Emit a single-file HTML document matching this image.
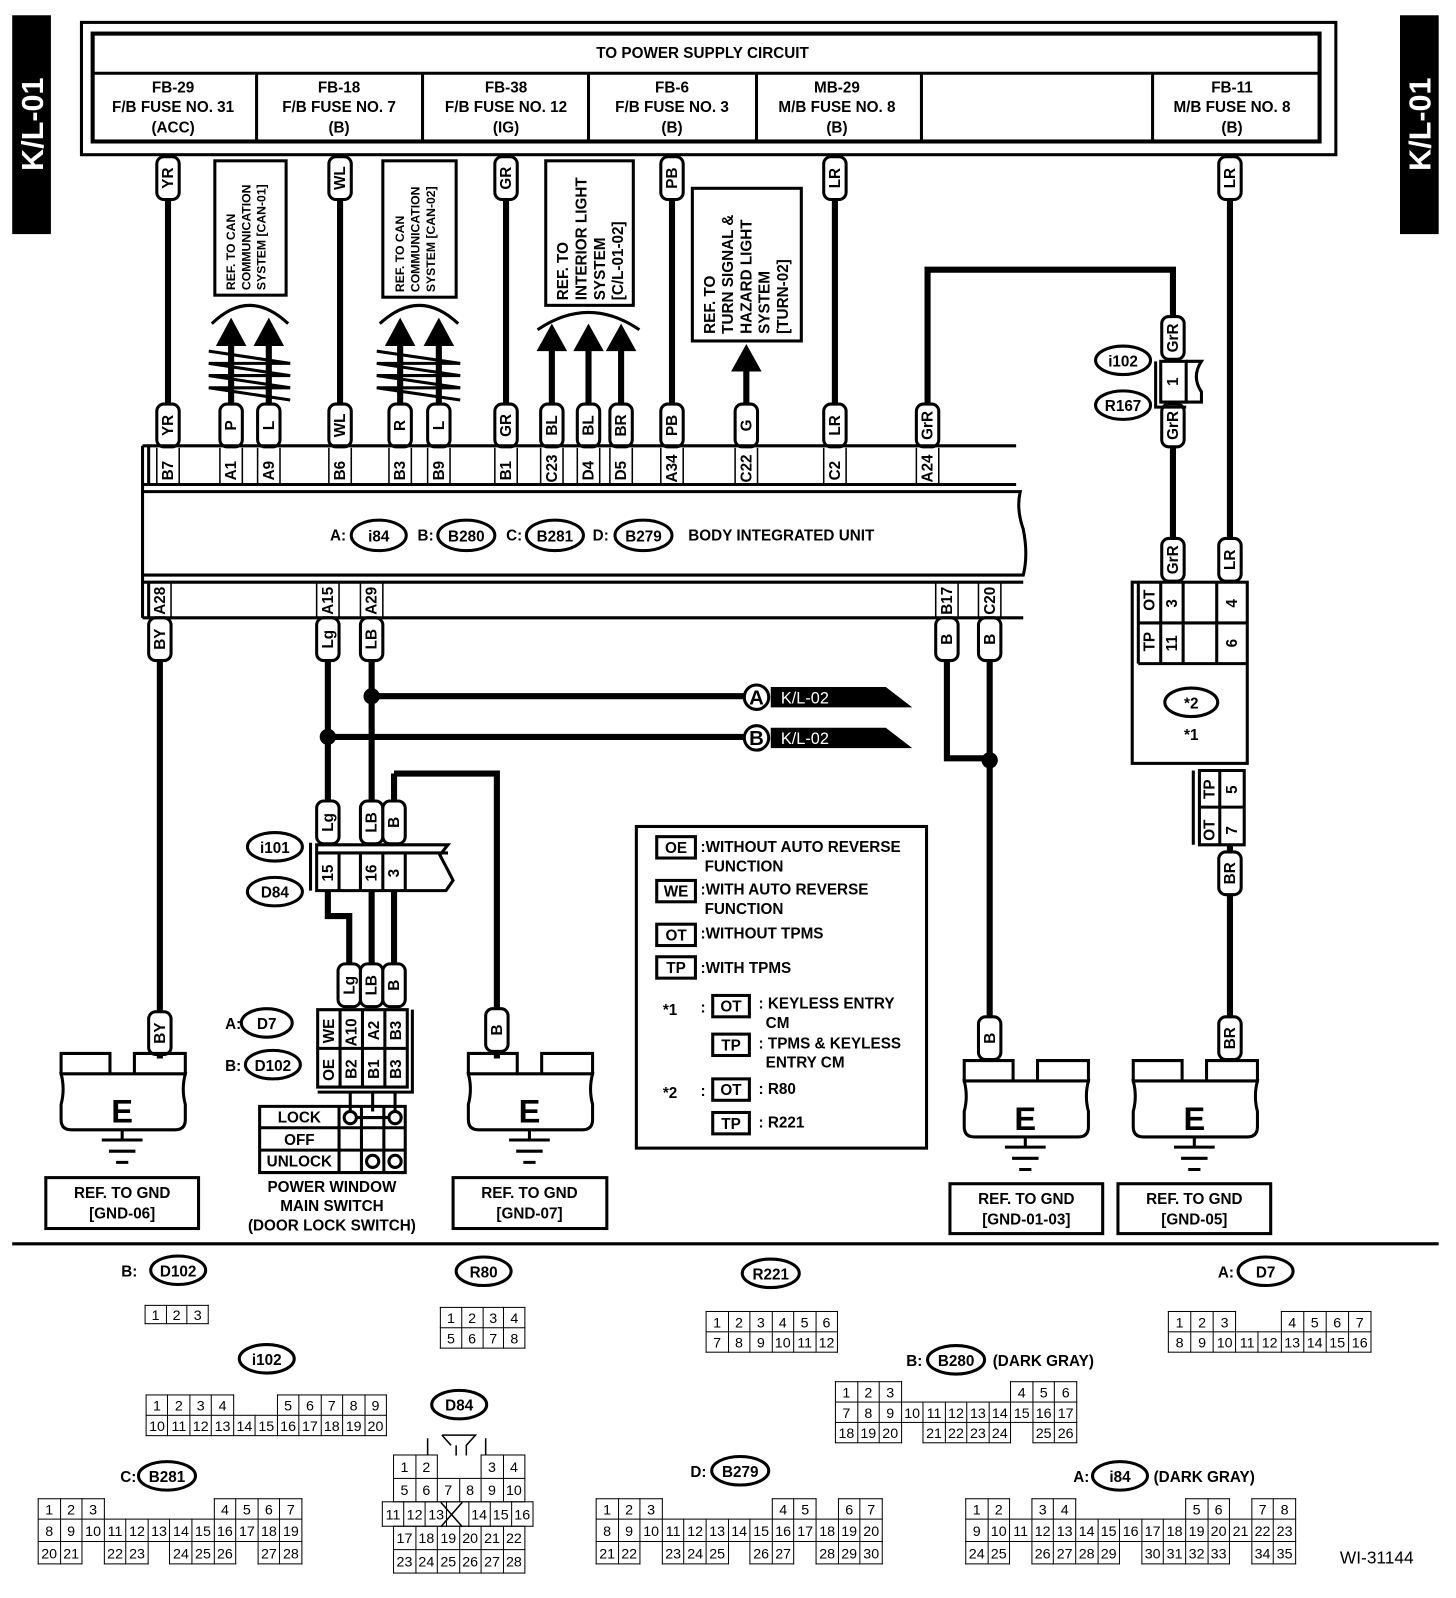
<!DOCTYPE html>
<html><head><meta charset="utf-8"><style>
html,body{margin:0;padding:0;background:#fff;}
body{width:1456px;height:1598px;overflow:hidden;position:relative;}
#w{position:absolute;left:0;top:0;width:1430px;height:1570px;transform:scale(1.01818,1.01783);transform-origin:0 0;}
svg{position:absolute;left:0;top:0;}
text{font-family:"Liberation Sans",sans-serif;font-weight:bold;font-size:15px;fill:#000;}
.w{stroke:#000;stroke-width:6;fill:none;}
.l{stroke:#000;stroke-width:3;fill:none;}
.b rect{fill:#fff;stroke:#000;stroke-width:3;}
.b text{text-anchor:middle;font-size:15px;}
.m{text-anchor:middle;}
table{position:absolute;border-collapse:collapse;table-layout:fixed;font-family:"Liberation Sans",sans-serif;font-size:14px;}
td{border:1.5px solid #000;padding:0;text-align:center;line-height:1;}
td.e{border:none;}
</style></head><body><div id="w">
<svg width="1430" height="1570" viewBox="0 0 1430 1570">
<rect x="12" y="15" width="38" height="215" fill="#000"/>
<text transform="translate(42,122) rotate(-90)" class="m" style="fill:#fff;font-size:30px">K/L-01</text>
<rect x="1375" y="15" width="38" height="215" fill="#000"/>
<text transform="translate(1405,122) rotate(-90)" class="m" style="fill:#fff;font-size:30px">K/L-01</text>
<rect x="80" y="22" width="1232" height="130" class="l"/>
<rect x="91" y="33" width="1205" height="106" class="l" style="stroke-width:4"/>
<line x1="91" y1="72" x2="1296" y2="72" class="l"/>
<line x1="252" y1="72" x2="252" y2="139" class="l"/><line x1="415" y1="72" x2="415" y2="139" class="l"/>
<line x1="578" y1="72" x2="578" y2="139" class="l"/><line x1="743" y1="72" x2="743" y2="139" class="l"/>
<line x1="905" y1="72" x2="905" y2="139" class="l"/><line x1="1132" y1="72" x2="1132" y2="139" class="l"/>
<text x="690" y="57" class="m">TO POWER SUPPLY CIRCUIT</text>
<g class="m">
<text x="170" y="91" class="m">FB-29</text><text x="170" y="110" class="m">F/B FUSE NO. 31</text><text x="170" y="130" class="m">(ACC)</text>
<text x="333" y="91" class="m">FB-18</text><text x="333" y="110" class="m">F/B FUSE NO. 7</text><text x="333" y="130" class="m">(B)</text>
<text x="497" y="91" class="m">FB-38</text><text x="497" y="110" class="m">F/B FUSE NO. 12</text><text x="497" y="130" class="m">(IG)</text>
<text x="660" y="91" class="m">FB-6</text><text x="660" y="110" class="m">F/B FUSE NO. 3</text><text x="660" y="130" class="m">(B)</text>
<text x="822" y="91" class="m">MB-29</text><text x="822" y="110" class="m">M/B FUSE NO. 8</text><text x="822" y="130" class="m">(B)</text>
<text x="1210" y="91" class="m">FB-11</text><text x="1210" y="110" class="m">M/B FUSE NO. 8</text><text x="1210" y="130" class="m">(B)</text>
</g>
<path class="w" d="M165 152V440M334 152V440M497 152V440M660 152V440M820 152V440M1208 152V540M227 330V440M264 330V440M393 330V440M431 330V440M542 335V440M578 335V440M610 335V440M733 355V440M911 440V265H1152V355M1152 395V540"/>
<rect x="211" y="158" width="70" height="132" class="l"/>
<text transform="translate(231,285) rotate(-90)" style="font-size:12px">REF. TO CAN</text>
<text transform="translate(246,285) rotate(-90)" style="font-size:12px">COMMUNICATION</text>
<text transform="translate(261,285) rotate(-90)" style="font-size:12px">SYSTEM [CAN-01]</text>
<rect x="376" y="158" width="72" height="134" class="l"/>
<text transform="translate(397,287) rotate(-90)" style="font-size:12px">REF. TO CAN</text>
<text transform="translate(412,287) rotate(-90)" style="font-size:12px">COMMUNICATION</text>
<text transform="translate(427,287) rotate(-90)" style="font-size:12px">SYSTEM [CAN-02]</text>
<rect x="536" y="158" width="86" height="142" class="l"/>
<text transform="translate(558,295) rotate(-90)">REF. TO</text>
<text transform="translate(576,295) rotate(-90)">INTERIOR LIGHT</text>
<text transform="translate(594,295) rotate(-90)">SYSTEM</text>
<text transform="translate(612,295) rotate(-90)">[C/L-01-02]</text>
<rect x="680" y="185" width="107" height="150" class="l"/>
<text transform="translate(702,328) rotate(-90)">REF. TO</text>
<text transform="translate(720,328) rotate(-90)">TURN SIGNAL &amp;</text>
<text transform="translate(738,328) rotate(-90)">HAZARD LIGHT</text>
<text transform="translate(756,328) rotate(-90)">SYSTEM</text>
<text transform="translate(774,328) rotate(-90)">[TURN-02]</text>
<g fill="#000">
<polygon points="227,312 212,340 242,340"/><polygon points="264,312 249,340 279,340"/>
<polygon points="393,312 378,340 408,340"/><polygon points="431,312 416,340 446,340"/>
<polygon points="542,318 527,345 557,345"/><polygon points="578,318 563,345 593,345"/><polygon points="610,318 595,345 625,345"/>
<polygon points="733,338 718,365 748,365"/>
</g>
<path class="l" d="M208 318Q245 282 283 318M373 318Q412 282 450 318M528 324Q578 290 628 324"/>
<path class="l" d="M205 345L285 357L205 357L285 369L205 369L285 381L205 381L285 393M370 345L452 357L370 357L452 369L370 369L452 381L370 381L452 393"/>
<g class="b">
<g transform="translate(165,175)"><rect x="-11" y="-21" width="22" height="42" rx="7"/><text transform="rotate(-90)" y="5">YR</text></g>
<g transform="translate(334,175)"><rect x="-11" y="-21" width="22" height="42" rx="7"/><text transform="rotate(-90)" y="5">WL</text></g>
<g transform="translate(497,175)"><rect x="-11" y="-21" width="22" height="42" rx="7"/><text transform="rotate(-90)" y="5">GR</text></g>
<g transform="translate(660,175)"><rect x="-11" y="-21" width="22" height="42" rx="7"/><text transform="rotate(-90)" y="5">PB</text></g>
<g transform="translate(820,175)"><rect x="-11" y="-21" width="22" height="42" rx="7"/><text transform="rotate(-90)" y="5">LR</text></g>
<g transform="translate(1208,175)"><rect x="-11" y="-21" width="22" height="42" rx="7"/><text transform="rotate(-90)" y="5">LR</text></g>
<g transform="translate(165,418)"><rect x="-11" y="-21" width="22" height="42" rx="7"/><text transform="rotate(-90)" y="5">YR</text></g>
<g transform="translate(227,418)"><rect x="-11" y="-21" width="22" height="42" rx="7"/><text transform="rotate(-90)" y="5">P</text></g>
<g transform="translate(264,418)"><rect x="-11" y="-21" width="22" height="42" rx="7"/><text transform="rotate(-90)" y="5">L</text></g>
<g transform="translate(334,418)"><rect x="-11" y="-21" width="22" height="42" rx="7"/><text transform="rotate(-90)" y="5">WL</text></g>
<g transform="translate(393,418)"><rect x="-11" y="-21" width="22" height="42" rx="7"/><text transform="rotate(-90)" y="5">R</text></g>
<g transform="translate(431,418)"><rect x="-11" y="-21" width="22" height="42" rx="7"/><text transform="rotate(-90)" y="5">L</text></g>
<g transform="translate(497,418)"><rect x="-11" y="-21" width="22" height="42" rx="7"/><text transform="rotate(-90)" y="5">GR</text></g>
<g transform="translate(542,418)"><rect x="-11" y="-21" width="22" height="42" rx="7"/><text transform="rotate(-90)" y="5">BL</text></g>
<g transform="translate(578,418)"><rect x="-11" y="-21" width="22" height="42" rx="7"/><text transform="rotate(-90)" y="5">BL</text></g>
<g transform="translate(610,418)"><rect x="-11" y="-21" width="22" height="42" rx="7"/><text transform="rotate(-90)" y="5">BR</text></g>
<g transform="translate(660,418)"><rect x="-11" y="-21" width="22" height="42" rx="7"/><text transform="rotate(-90)" y="5">PB</text></g>
<g transform="translate(733,418)"><rect x="-11" y="-21" width="22" height="42" rx="7"/><text transform="rotate(-90)" y="5">G</text></g>
<g transform="translate(820,418)"><rect x="-11" y="-21" width="22" height="42" rx="7"/><text transform="rotate(-90)" y="5">LR</text></g>
<g transform="translate(911,418)"><rect x="-11" y="-21" width="22" height="42" rx="7"/><text transform="rotate(-90)" y="5">GrR</text></g>
<g transform="translate(1152,332)"><rect x="-11" y="-21" width="22" height="42" rx="7"/><text transform="rotate(-90)" y="5">GrR</text></g>
<g transform="translate(1152,418)"><rect x="-11" y="-21" width="22" height="42" rx="7"/><text transform="rotate(-90)" y="5">GrR</text></g>
<g transform="translate(1152,550)"><rect x="-11" y="-21" width="22" height="42" rx="7"/><text transform="rotate(-90)" y="5">GrR</text></g>
<g transform="translate(1208,550)"><rect x="-11" y="-21" width="22" height="42" rx="7"/><text transform="rotate(-90)" y="5">LR</text></g>
</g>
<rect x="1140" y="355" width="25" height="40" fill="#fff" class="l"/>
<path class="l" d="M1165 355H1180Q1170 370 1180 385V395H1140M1135 355V400H1165"/>
<text transform="translate(1157,375) rotate(-90)" class="m">1</text>
<ellipse cx="1103" cy="354" rx="27" ry="14" class="l" fill="#fff"/><text x="1103" y="360" class="m">i102</text>
<ellipse cx="1103" cy="398" rx="27" ry="14" class="l" fill="#fff"/><text x="1103" y="404" class="m">R167</text>
<path class="l" d="M140 438H998M140 476H998M140 438V607M140 483H1002Q998 500 1005 520Q1010 545 1005 565H140M140 572H1005M140 607H1005M146 438V476M146 572V607"/>
<path class="l" style="stroke-width:1.5" d="M154 440V476M176 440V476M216 440V476M238 440V476M253 440V476M275 440V476M323 440V476M345 440V476M382 440V476M404 440V476M420 440V476M442 440V476M486 440V476M508 440V476M531 440V476M553 440V476M567 440V476M589 440V476M599 440V476M621 440V476M649 440V476M671 440V476M722 440V476M744 440V476M809 440V476M831 440V476M900 440V476M922 440V476M146 572V607M168 572V607M311 572V607M333 572V607M354 572V607M376 572V607M919 572V607M941 572V607M961 572V607M983 572V607"/>
<g style="font-size:14px">
<text transform="translate(170,472) rotate(-90)">B7</text><text transform="translate(232,472) rotate(-90)">A1</text><text transform="translate(269,472) rotate(-90)">A9</text>
<text transform="translate(339,472) rotate(-90)">B6</text><text transform="translate(398,472) rotate(-90)">B3</text><text transform="translate(436,472) rotate(-90)">B9</text>
<text transform="translate(502,472) rotate(-90)">B1</text><text transform="translate(547,474) rotate(-90)">C23</text><text transform="translate(583,472) rotate(-90)">D4</text>
<text transform="translate(615,472) rotate(-90)">D5</text><text transform="translate(665,474) rotate(-90)">A34</text><text transform="translate(738,474) rotate(-90)">C22</text>
<text transform="translate(825,472) rotate(-90)">C2</text><text transform="translate(916,474) rotate(-90)">A24</text>
<text transform="translate(162,604) rotate(-90)">A28</text><text transform="translate(327,604) rotate(-90)">A15</text><text transform="translate(370,604) rotate(-90)">A29</text>
<text transform="translate(935,604) rotate(-90)">B17</text><text transform="translate(977,604) rotate(-90)">C20</text>
</g>
<text x="332" y="531" class="m">A:</text><ellipse cx="372" cy="526" rx="27" ry="15" class="l"/><text x="372" y="532" class="m">i84</text>
<text x="418" y="531" class="m">B:</text><ellipse cx="458" cy="526" rx="28" ry="15" class="l"/><text x="458" y="532" class="m">B280</text>
<text x="505" y="531" class="m">C:</text><ellipse cx="545" cy="526" rx="28" ry="15" class="l"/><text x="545" y="532" class="m">B281</text>
<text x="590" y="531" class="m">D:</text><ellipse cx="632" cy="526" rx="28" ry="15" class="l"/><text x="632" y="532" class="m">B279</text>
<text x="676" y="531">BODY INTEGRATED UNIT</text>
<path class="w" d="M157 607V1040M322 607V828M322 875V900H343V990M365 607V828M365 875V990M387 875V990M387 760V828M387 760H488V1040M930 607V745H972M972 607V1040M1208 830V1040M365 684H731M322 724H731"/>
<circle cx="365" cy="684" r="8"/><circle cx="322" cy="724" r="8"/><circle cx="972" cy="747" r="8"/>
<circle cx="743" cy="685" r="12" class="l" fill="#fff"/><text x="743" y="692" class="m" style="font-size:20px">A</text>
<circle cx="743" cy="725" r="12" class="l" fill="#fff"/><text x="743" y="732" class="m" style="font-size:20px">B</text>
<polygon points="757,675 870,675 896,695 757,695" fill="#000"/><text x="767" y="691" style="fill:#fff;font-weight:normal;font-size:16px">K/L-02</text>
<polygon points="757,715 870,715 896,735 757,735" fill="#000"/><text x="767" y="731" style="fill:#fff;font-weight:normal;font-size:16px">K/L-02</text>
<rect x="1112" y="572" width="113" height="178" class="l" fill="#fff"/>
<path class="l" d="M1118 572V652M1118 652H1225M1118 612H1225M1140 572V652M1162 572V652M1195 572V652"/>
<g style="font-size:14px">
<text transform="translate(1134,600) rotate(-90)">OT</text><text transform="translate(1134,640) rotate(-90)">TP</text>
<text transform="translate(1156,597) rotate(-90)">3</text><text transform="translate(1156,640) rotate(-90)">11</text>
<text transform="translate(1215,597) rotate(-90)">4</text><text transform="translate(1215,636) rotate(-90)">6</text>
</g>
<ellipse cx="1170" cy="690" rx="26" ry="14" class="l"/><text x="1170" y="696" class="m">*2</text>
<text x="1170" y="727" class="m">*1</text>
<path class="l" d="M1172 757V830M1222 757V830M1178 757H1222V830H1178ZM1178 793H1222M1198 757V830"/>
<g style="font-size:14px">
<text transform="translate(1193,785) rotate(-90)">TP</text><text transform="translate(1193,826) rotate(-90)">OT</text>
<text transform="translate(1215,780) rotate(-90)">5</text><text transform="translate(1215,820) rotate(-90)">7</text>
</g>
<g class="b">
<g transform="translate(157,628)"><rect x="-11" y="-21" width="22" height="42" rx="7"/><text transform="rotate(-90)" y="5">BY</text></g>
<g transform="translate(322,628)"><rect x="-11" y="-21" width="22" height="42" rx="7"/><text transform="rotate(-90)" y="5">Lg</text></g>
<g transform="translate(365,628)"><rect x="-11" y="-21" width="22" height="42" rx="7"/><text transform="rotate(-90)" y="5">LB</text></g>
<g transform="translate(930,628)"><rect x="-11" y="-21" width="22" height="42" rx="7"/><text transform="rotate(-90)" y="5">B</text></g>
<g transform="translate(972,628)"><rect x="-11" y="-21" width="22" height="42" rx="7"/><text transform="rotate(-90)" y="5">B</text></g>
<g transform="translate(322,808)"><rect x="-11" y="-21" width="22" height="42" rx="7"/><text transform="rotate(-90)" y="5">Lg</text></g>
<g transform="translate(365,808)"><rect x="-11" y="-21" width="22" height="42" rx="7"/><text transform="rotate(-90)" y="5">LB</text></g>
<g transform="translate(387,808)"><rect x="-11" y="-21" width="22" height="42" rx="7"/><text transform="rotate(-90)" y="5">B</text></g>
<g transform="translate(343,968)"><rect x="-11" y="-21" width="22" height="42" rx="7"/><text transform="rotate(-90)" y="5">Lg</text></g>
<g transform="translate(365,968)"><rect x="-11" y="-21" width="22" height="42" rx="7"/><text transform="rotate(-90)" y="5">LB</text></g>
<g transform="translate(387,968)"><rect x="-11" y="-21" width="22" height="42" rx="7"/><text transform="rotate(-90)" y="5">B</text></g>
<g transform="translate(157,1015)"><rect x="-11" y="-21" width="22" height="42" rx="7"/><text transform="rotate(-90)" y="5">BY</text></g>
<g transform="translate(488,1012)"><rect x="-11" y="-21" width="22" height="42" rx="7"/><text transform="rotate(-90)" y="5">B</text></g>
<g transform="translate(972,1020)"><rect x="-11" y="-21" width="22" height="42" rx="7"/><text transform="rotate(-90)" y="5">B</text></g>
<g transform="translate(1208,858)"><rect x="-11" y="-21" width="22" height="42" rx="7"/><text transform="rotate(-90)" y="5">BR</text></g>
<g transform="translate(1208,1020)"><rect x="-11" y="-21" width="22" height="42" rx="7"/><text transform="rotate(-90)" y="5">BR</text></g>
</g>
<path class="l" d="M305 828V875M311 830H440L432 840Q440 855 445 865L438 875H311ZM311 838H440M333 838V875M354 838V875M376 838V875M398 838V875" fill="#fff"/>
<g style="font-size:14px"><text transform="translate(327,866) rotate(-90)">15</text><text transform="translate(370,866) rotate(-90)">16</text><text transform="translate(392,862) rotate(-90)">3</text></g>
<ellipse cx="270" cy="832" rx="27" ry="14" class="l"/><text x="270" y="838" class="m">i101</text>
<ellipse cx="270" cy="876" rx="27" ry="14" class="l"/><text x="270" y="882" class="m">D84</text>
<path class="l" d="M312 992H400V1068H312ZM405 992V1073H312M312 1030H400M334 992V1068M356 992V1068M378 992V1068" fill="#fff"/>
<g style="font-size:14px">
<text transform="translate(328,1025) rotate(-90)">WE</text><text transform="translate(350,1028) rotate(-90)">A10</text><text transform="translate(372,1022) rotate(-90)">A2</text><text transform="translate(394,1022) rotate(-90)">B3</text>
<text transform="translate(328,1062) rotate(-90)">OE</text><text transform="translate(350,1060) rotate(-90)">B2</text><text transform="translate(372,1060) rotate(-90)">B1</text><text transform="translate(394,1060) rotate(-90)">B3</text>
</g>
<text x="229" y="1011" class="m">A:</text><ellipse cx="262" cy="1005" rx="25" ry="14" class="l"/><text x="262" y="1011" class="m">D7</text>
<text x="229" y="1052" class="m">B:</text><ellipse cx="268" cy="1046" rx="27" ry="14" class="l"/><text x="268" y="1052" class="m">D102</text>
<path class="l" d="M344 1073V1092M366 1073V1092M388 1073V1092M255 1087H398V1152H255ZM255 1108H398M255 1130H398M333 1087V1152M355 1087V1152M377 1087V1152M350 1098H382"/>
<g class="l" fill="#fff"><circle cx="344" cy="1098" r="6"/><circle cx="388" cy="1098" r="6"/><circle cx="366" cy="1141" r="6"/><circle cx="388" cy="1141" r="6"/></g>
<text x="294" y="1103" class="m">LOCK</text><text x="294" y="1125" class="m">OFF</text><text x="294" y="1146" class="m">UNLOCK</text>
<text x="326" y="1171" class="m">POWER WINDOW</text><text x="326" y="1190" class="m">MAIN SWITCH</text><text x="326" y="1209" class="m">(DOOR LOCK SWITCH)</text>
<g>
<path class="l" d="M60 1035H108V1055H60ZM132 1035H182V1055H132ZM60 1055H182Q178 1070 182 1085V1100Q182 1110 172 1110H70Q60 1110 60 1100V1085Q64 1070 60 1055ZM120 1110V1120M100 1120H140M107 1131H133M114 1142H126" fill="#fff"/>
<text x="120" y="1103" class="m" style="font-size:32px">E</text>
</g>
<g transform="translate(400,0)"><path class="l" d="M60 1035H108V1055H60ZM132 1035H182V1055H132ZM60 1055H182Q178 1070 182 1085V1100Q182 1110 172 1110H70Q60 1110 60 1100V1085Q64 1070 60 1055ZM120 1110V1120M100 1120H140M107 1131H133M114 1142H126" fill="#fff"/><text x="120" y="1103" class="m" style="font-size:32px">E</text></g>
<g transform="translate(887,7)"><path class="l" d="M60 1035H108V1055H60ZM132 1035H182V1055H132ZM60 1055H182Q178 1070 182 1085V1100Q182 1110 172 1110H70Q60 1110 60 1100V1085Q64 1070 60 1055ZM120 1110V1120M100 1120H140M107 1131H133M114 1142H126" fill="#fff"/><text x="120" y="1103" class="m" style="font-size:32px">E</text></g>
<g transform="translate(1053,7)"><path class="l" d="M60 1035H108V1055H60ZM132 1035H182V1055H132ZM60 1055H182Q178 1070 182 1085V1100Q182 1110 172 1110H70Q60 1110 60 1100V1085Q64 1070 60 1055ZM120 1110V1120M100 1120H140M107 1131H133M114 1142H126" fill="#fff"/><text x="120" y="1103" class="m" style="font-size:32px">E</text></g>
<rect x="45" y="1157" width="150" height="50" class="l"/><text x="120" y="1177" class="m">REF. TO GND</text><text x="120" y="1197" class="m">[GND-06]</text>
<rect x="445" y="1157" width="151" height="50" class="l"/><text x="520" y="1177" class="m">REF. TO GND</text><text x="520" y="1197" class="m">[GND-07]</text>
<rect x="933" y="1163" width="150" height="49" class="l"/><text x="1008" y="1183" class="m">REF. TO GND</text><text x="1008" y="1203" class="m">[GND-01-03]</text>
<rect x="1098" y="1163" width="150" height="49" class="l"/><text x="1173" y="1183" class="m">REF. TO GND</text><text x="1173" y="1203" class="m">[GND-05]</text>
<rect x="625" y="812" width="285" height="316" class="l"/>
<g class="l"><rect x="645" y="822" width="38" height="21"/><rect x="645" y="865" width="38" height="21"/><rect x="645" y="908" width="38" height="21"/><rect x="645" y="940" width="38" height="21"/>
<rect x="700" y="978" width="36" height="21"/><rect x="700" y="1016" width="36" height="21"/><rect x="700" y="1060" width="36" height="21"/><rect x="700" y="1093" width="36" height="21"/></g>
<text x="664" y="838" class="m">OE</text><text x="688" y="837">:WITHOUT AUTO REVERSE</text><text x="692" y="856">FUNCTION</text>
<text x="664" y="881" class="m">WE</text><text x="688" y="879">:WITH AUTO REVERSE</text><text x="692" y="898">FUNCTION</text>
<text x="664" y="924" class="m">OT</text><text x="688" y="922">:WITHOUT TPMS</text>
<text x="664" y="956" class="m">TP</text><text x="688" y="956">:WITH TPMS</text>
<text x="651" y="997">*1</text><text x="688" y="995">:</text>
<text x="718" y="994" class="m">OT</text><text x="745" y="991">: KEYLESS ENTRY</text><text x="752" y="1010">CM</text>
<text x="718" y="1032" class="m">TP</text><text x="745" y="1030">: TPMS &amp; KEYLESS</text><text x="752" y="1049">ENTRY CM</text>
<text x="651" y="1079">*2</text><text x="688" y="1077">:</text>
<text x="718" y="1076" class="m">OT</text><text x="745" y="1075">: R80</text>
<text x="718" y="1109" class="m">TP</text><text x="745" y="1108">: R221</text>
<line x1="12" y1="1222" x2="1413" y2="1222" class="l"/>
<text x="127" y="1254" class="m">B:</text><ellipse cx="175" cy="1248" rx="27" ry="14" class="l"/><text x="175" y="1254" class="m">D102</text>
<ellipse cx="475" cy="1249" rx="27" ry="14" class="l"/><text x="475" y="1255" class="m">R80</text>
<ellipse cx="757" cy="1251" rx="28" ry="14" class="l"/><text x="757" y="1257" class="m">R221</text>
<text x="1204" y="1255" class="m">A:</text><ellipse cx="1243" cy="1249" rx="27" ry="14" class="l"/><text x="1243" y="1255" class="m">D7</text>
<ellipse cx="262" cy="1335" rx="27" ry="14" class="l"/><text x="262" y="1341" class="m">i102</text>
<text x="898" y="1342" class="m">B:</text><ellipse cx="939" cy="1336" rx="28" ry="14" class="l"/><text x="939" y="1342" class="m">B280</text><text x="975" y="1342">(DARK GRAY)</text>
<ellipse cx="451" cy="1380" rx="27" ry="14" class="l"/><text x="451" y="1386" class="m">D84</text>
<text x="126" y="1456" class="m">C:</text><ellipse cx="164" cy="1450" rx="28" ry="14" class="l"/><text x="164" y="1456" class="m">B281</text>
<text x="686" y="1451" class="m">D:</text><ellipse cx="727" cy="1445" rx="28" ry="14" class="l"/><text x="727" y="1451" class="m">B279</text>
<text x="1062" y="1456" class="m">A:</text><ellipse cx="1100" cy="1450" rx="27" ry="14" class="l"/><text x="1100" y="1456" class="m">i84</text><text x="1133" y="1456">(DARK GRAY)</text>
<text x="1316" y="1536" style="font-weight:normal;font-size:17px">WI-31144</text>
<path class="l" style="stroke-width:1.5" d="M434 1410H467L458 1420V1430M443 1420L434 1410M448 1420V1430M420 1413V1430M477 1413V1430"/>
<path class="l" style="stroke-width:1.5" d="M433 1476L454 1500M454 1476L433 1500"/>
</svg>
<table style="left:142px;top:1282px;width:63px"><tr style="height:18px"><td>1</td><td>2</td><td>3</td></tr></table>
<table style="left:432px;top:1284px;width:84px"><tr style="height:20px"><td>1</td><td>2</td><td>3</td><td>4</td></tr><tr style="height:20px"><td>5</td><td>6</td><td>7</td><td>8</td></tr></table>
<table style="left:693px;top:1288px;width:130px"><tr style="height:20px"><td>1</td><td>2</td><td>3</td><td>4</td><td>5</td><td>6</td></tr><tr style="height:20px"><td>7</td><td>8</td><td>9</td><td>10</td><td>11</td><td>12</td></tr></table>
<table style="left:1147px;top:1288px;width:200px"><tr style="height:20px"><td>1</td><td>2</td><td>3</td><td class="e"></td><td class="e"></td><td>4</td><td>5</td><td>6</td><td>7</td></tr><tr style="height:20px"><td>8</td><td>9</td><td>10</td><td>11</td><td>12</td><td>13</td><td>14</td><td>15</td><td>16</td></tr></table>
<table style="left:143px;top:1370px;width:237px"><tr style="height:20px"><td>1</td><td>2</td><td>3</td><td>4</td><td class="e"></td><td class="e"></td><td>5</td><td>6</td><td>7</td><td>8</td><td>9</td></tr><tr style="height:20px"><td>10</td><td>11</td><td>12</td><td>13</td><td>14</td><td>15</td><td>16</td><td>17</td><td>18</td><td>19</td><td>20</td></tr></table>
<table style="left:820px;top:1357px;width:238px"><tr style="height:20px"><td>1</td><td>2</td><td>3</td><td class="e"></td><td class="e"></td><td class="e"></td><td class="e"></td><td class="e"></td><td>4</td><td>5</td><td>6</td></tr><tr style="height:20px"><td>7</td><td>8</td><td>9</td><td>10</td><td>11</td><td>12</td><td>13</td><td>14</td><td>15</td><td>16</td><td>17</td></tr><tr style="height:20px"><td>18</td><td>19</td><td>20</td><td class="e"></td><td>21</td><td>22</td><td>23</td><td>24</td><td class="e"></td><td>25</td><td>26</td></tr></table>
<table style="left:386px;top:1429px;width:130px"><tr style="height:23px"><td>1</td><td>2</td><td class="e"></td><td class="e"></td><td>3</td><td>4</td></tr><tr style="height:23px"><td>5</td><td>6</td><td>7</td><td>8</td><td>9</td><td>10</td></tr></table>
<table style="left:375px;top:1475px;width:149px"><tr style="height:24px"><td>11</td><td>12</td><td>13</td><td></td><td>14</td><td>15</td><td>16</td></tr></table>
<table style="left:386px;top:1499px;width:130px"><tr style="height:23px"><td>17</td><td>18</td><td>19</td><td>20</td><td>21</td><td>22</td></tr><tr style="height:23px"><td>23</td><td>24</td><td>25</td><td>26</td><td>27</td><td>28</td></tr></table>
<table style="left:37px;top:1472px;width:260px"><tr style="height:20px"><td>1</td><td>2</td><td>3</td><td class="e"></td><td class="e"></td><td class="e"></td><td class="e"></td><td class="e"></td><td>4</td><td>5</td><td>6</td><td>7</td></tr><tr style="height:22px"><td>8</td><td>9</td><td>10</td><td>11</td><td>12</td><td>13</td><td>14</td><td>15</td><td>16</td><td>17</td><td>18</td><td>19</td></tr><tr style="height:22px"><td>20</td><td>21</td><td class="e"></td><td>22</td><td>23</td><td class="e"></td><td>24</td><td>25</td><td>26</td><td class="e"></td><td>27</td><td>28</td></tr></table>
<table style="left:585px;top:1472px;width:282px"><tr style="height:20px"><td>1</td><td>2</td><td>3</td><td class="e"></td><td class="e"></td><td class="e"></td><td class="e"></td><td class="e"></td><td>4</td><td>5</td><td class="e"></td><td>6</td><td>7</td></tr><tr style="height:22px"><td>8</td><td>9</td><td>10</td><td>11</td><td>12</td><td>13</td><td>14</td><td>15</td><td>16</td><td>17</td><td>18</td><td>19</td><td>20</td></tr><tr style="height:22px"><td>21</td><td>22</td><td class="e"></td><td>23</td><td>24</td><td>25</td><td class="e"></td><td>26</td><td>27</td><td class="e"></td><td>28</td><td>29</td><td>30</td></tr></table>
<table style="left:948px;top:1472px;width:325px"><tr style="height:20px"><td>1</td><td>2</td><td class="e"></td><td>3</td><td>4</td><td class="e"></td><td class="e"></td><td class="e"></td><td class="e"></td><td class="e"></td><td>5</td><td>6</td><td class="e"></td><td>7</td><td>8</td></tr><tr style="height:22px"><td>9</td><td>10</td><td>11</td><td>12</td><td>13</td><td>14</td><td>15</td><td>16</td><td>17</td><td>18</td><td>19</td><td>20</td><td>21</td><td>22</td><td>23</td></tr><tr style="height:22px"><td>24</td><td>25</td><td class="e"></td><td>26</td><td>27</td><td>28</td><td>29</td><td class="e"></td><td>30</td><td>31</td><td>32</td><td>33</td><td class="e"></td><td>34</td><td>35</td></tr></table>
</div></body></html>
